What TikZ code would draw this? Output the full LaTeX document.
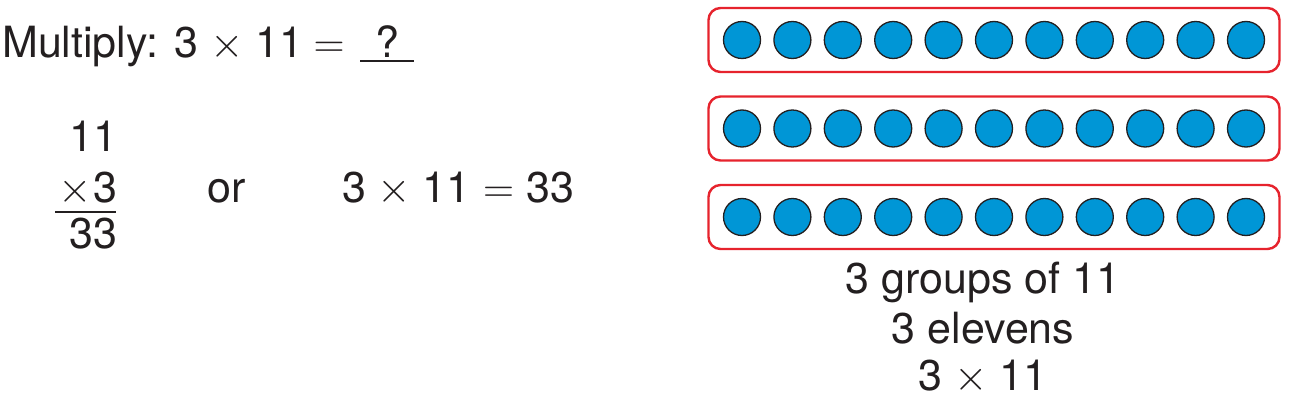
\RequirePackage{fix-cm}
\documentclass[tikz,border=0pt]{standalone}
\usepackage{fontspec}
\setmainfont{TeX Gyre Heros}
\usetikzlibrary{positioning}

\definecolor{boxred}{RGB}{230,35,45}
\definecolor{dotblue}{RGB}{0,150,214}
\definecolor{inkgray}{RGB}{35,31,32}

\def\groupCount{3}
\def\dotCount{11}
\def\tms{\hspace{0.27em}$\times$\hspace{0.27em}}
\def\eqs{\hspace{0.29em}$=$\hspace{0.29em}}

\tikzset{
    bigtext/.style={font=\fontsize{43}{50}\selectfont, text=inkgray, inner sep=0pt},
    groupbox/.style={draw=boxred, line width=2.4pt, rounded corners=12pt,
        minimum width=571pt, minimum height=64pt},
    dot/.style={circle, draw=inkgray, line width=1.3pt, fill=dotblue,
        minimum size=37pt, inner sep=0pt}
}

\begin{document}
\begin{tikzpicture}[x=1pt,y=-1pt]
    \useasboundingbox (0,0) rectangle (1293,401);

    % question
    \node [bigtext, anchor=base west] (question) at (2,58) {Multiply: 3\tms 11\hspace{0.25em}$=$};
    \node [bigtext, anchor=base] (blank) at (387,58) {?};
    \coordinate (blankL) at (360,61);
    \coordinate (blankR) at (414,61);
    \draw [inkgray, line width=1.8pt] (blankL) -- (blankR);

    % column form
    \node [bigtext, anchor=base east] (top) at (118,152) {11};
    \node [bigtext, anchor=base east] (factor) at (118,202) {$\times$\hspace{0.05em}3};
    \node [bigtext, anchor=base east] (product) at (118,248) {33};
    \coordinate (ruleL) at (55,212);
    \coordinate (ruleR) at (116,212);
    \draw [inkgray, line width=2pt] (ruleL) -- (ruleR);

    \node [bigtext, anchor=base west] (or) at (207,202) {or};
    \node [bigtext, anchor=base west] (equation) at (342,202) {3\tms 11\eqs 33};

    % groups of dots
    \foreach \g in {1,...,\groupCount}{%
        \node [groupbox] (group\g) at (994,{40+88.5*(\g-1)}) {};
        \foreach \n in {1,...,\dotCount}{%
            \node [dot] (dot\g-\n) at ({742+50.4*(\n-1)},{40+88.5*(\g-1)}) {};
        }
    }

    % captions
    \node [bigtext, anchor=base, align=center] (caption) at (983,390)
        {3 groups of 11\\3 elevens\\[-3pt]3\tms 11};
\end{tikzpicture}
\end{document}
